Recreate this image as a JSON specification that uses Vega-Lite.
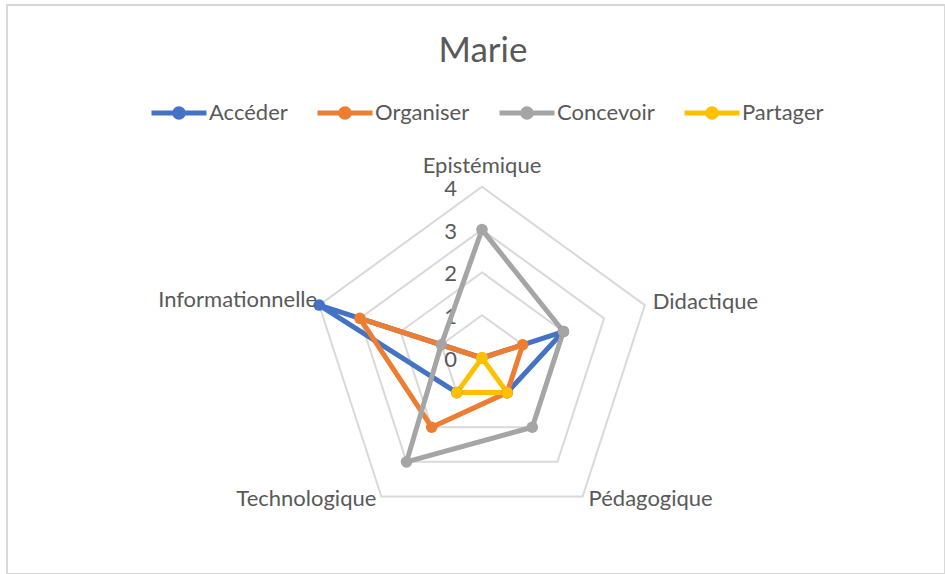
{
  "$schema": "https://vega.github.io/schema/vega-lite/v6.json",
  "width": 938,
  "height": 569,
  "autosize": "none",
  "padding": {"left": 7, "top": 5, "right": 0, "bottom": 0},
  "background": "white",
  "config": {
    "view": {"stroke": "#d9d9d9", "strokeWidth": 2},
    "font": "Lato"
  },
  "title": {
    "text": "Marie",
    "fontSize": 35,
    "font": "Lato",
    "fontWeight": "normal",
    "color": "#595959",
    "anchor": "middle",
    "frame": "group",
    "offset": -64,
    "dx": 7
  },
  "datasets": {
    "scores": [
      {"serie": "Accéder", "axe": "Epistémique", "valeur": 0},
      {"serie": "Accéder", "axe": "Didactique", "valeur": 2},
      {"serie": "Accéder", "axe": "Pédagogique", "valeur": 1},
      {"serie": "Accéder", "axe": "Technologique", "valeur": 1},
      {"serie": "Accéder", "axe": "Informationnelle", "valeur": 4},
      {"serie": "Organiser", "axe": "Epistémique", "valeur": 0},
      {"serie": "Organiser", "axe": "Didactique", "valeur": 1},
      {"serie": "Organiser", "axe": "Pédagogique", "valeur": 1},
      {"serie": "Organiser", "axe": "Technologique", "valeur": 2},
      {"serie": "Organiser", "axe": "Informationnelle", "valeur": 3},
      {"serie": "Concevoir", "axe": "Epistémique", "valeur": 3},
      {"serie": "Concevoir", "axe": "Didactique", "valeur": 2},
      {"serie": "Concevoir", "axe": "Pédagogique", "valeur": 2},
      {"serie": "Concevoir", "axe": "Technologique", "valeur": 3},
      {"serie": "Concevoir", "axe": "Informationnelle", "valeur": 1},
      {"serie": "Partager", "axe": "Epistémique", "valeur": 0},
      {"serie": "Partager", "axe": "Didactique", "valeur": 0},
      {"serie": "Partager", "axe": "Pédagogique", "valeur": 1},
      {"serie": "Partager", "axe": "Technologique", "valeur": 1},
      {"serie": "Partager", "axe": "Informationnelle", "valeur": 0}
    ],
    "grille": [
      {"niveau": 1, "axe": "Epistémique"}, {"niveau": 1, "axe": "Didactique"}, {"niveau": 1, "axe": "Pédagogique"}, {"niveau": 1, "axe": "Technologique"}, {"niveau": 1, "axe": "Informationnelle"},
      {"niveau": 2, "axe": "Epistémique"}, {"niveau": 2, "axe": "Didactique"}, {"niveau": 2, "axe": "Pédagogique"}, {"niveau": 2, "axe": "Technologique"}, {"niveau": 2, "axe": "Informationnelle"},
      {"niveau": 3, "axe": "Epistémique"}, {"niveau": 3, "axe": "Didactique"}, {"niveau": 3, "axe": "Pédagogique"}, {"niveau": 3, "axe": "Technologique"}, {"niveau": 3, "axe": "Informationnelle"},
      {"niveau": 4, "axe": "Epistémique"}, {"niveau": 4, "axe": "Didactique"}, {"niveau": 4, "axe": "Pédagogique"}, {"niveau": 4, "axe": "Technologique"}, {"niveau": 4, "axe": "Informationnelle"}
    ],
    "graduations": [
      {"niveau": 0}, {"niveau": 1}, {"niveau": 2}, {"niveau": 3}, {"niveau": 4}
    ],
    "axes": [
      {"axe": "Epistémique", "niveau": 4},
      {"axe": "Didactique", "niveau": 4},
      {"axe": "Pédagogique", "niveau": 4},
      {"axe": "Technologique", "niveau": 4},
      {"axe": "Informationnelle", "niveau": 4}
    ]
  },
  "layer": [
    {
      "data": {"name": "grille"},
      "transform": [
        {"calculate": "indexof(['Epistémique','Didactique','Pédagogique','Technologique','Informationnelle'], datum.axe)", "as": "idx"},
        {"calculate": "datum.niveau * sin(datum.idx * 2 * PI / 5)", "as": "px"},
        {"calculate": "datum.niveau * cos(datum.idx * 2 * PI / 5)", "as": "py"}
      ],
      "mark": {"type": "line", "interpolate": "linear-closed", "stroke": "#d9d9d9", "strokeWidth": 2},
      "encoding": {
        "x": {"field": "px", "type": "quantitative", "scale": {"domain": [-11.098, 10.818], "nice": false, "zero": false}, "axis": null},
        "y": {"field": "py", "type": "quantitative", "scale": {"domain": [-5.047, 8.248], "nice": false, "zero": false}, "axis": null},
        "detail": {"field": "niveau", "type": "nominal"},
        "order": {"field": "idx", "type": "quantitative"}
      }
    },
    {
      "data": {"name": "graduations"},
      "transform": [
        {"calculate": "0", "as": "px"},
        {"calculate": "datum.niveau", "as": "py"}
      ],
      "mark": {"type": "text", "align": "right", "baseline": "middle", "dx": -25, "dy": 2, "fontSize": 22, "font": "Lato", "color": "#595959"},
      "encoding": {
        "x": {"field": "px", "type": "quantitative"},
        "y": {"field": "py", "type": "quantitative"},
        "text": {"field": "niveau", "type": "quantitative"}
      }
    },
    {
      "data": {"name": "scores"},
      "transform": [
        {"calculate": "indexof(['Epistémique','Didactique','Pédagogique','Technologique','Informationnelle'], datum.axe)", "as": "idx"},
        {"calculate": "datum.valeur * sin(datum.idx * 2 * PI / 5)", "as": "px"},
        {"calculate": "datum.valeur * cos(datum.idx * 2 * PI / 5)", "as": "py"}
      ],
      "layer": [
        {
          "mark": {"type": "line", "interpolate": "linear-closed", "strokeWidth": 5, "strokeJoin": "round", "strokeCap": "round"},
          "encoding": {
            "x": {"field": "px", "type": "quantitative"},
            "y": {"field": "py", "type": "quantitative"},
            "order": {"field": "idx", "type": "quantitative"},
            "color": {
              "field": "serie",
              "type": "nominal",
              "sort": ["Accéder", "Organiser", "Concevoir", "Partager"],
              "scale": {"domain": ["Accéder", "Organiser", "Concevoir", "Partager"], "range": ["#4472C4", "#ED7D31", "#A5A5A5", "#FFC000"]},
              "legend": {
                "title": null,
                "orient": "none",
                "direction": "horizontal",
                "legendX": 142,
                "legendY": 78,
                "padding": 0,
                "gridAlign": "none",
                "columnPadding": 19,
                "labelOffset": 0,
                "labelFontSize": 22,
                "labelFont": "Lato",
                "labelColor": "#595959",
                "symbolType": "M-1,0L1,0M0.064,0A0.064,0.064 0 1,1 -0.064,0A0.064,0.064 0 1,1 0.064,0M0.155,0A0.155,0.155 0 1,1 -0.155,0A0.155,0.155 0 1,1 0.155,0",
                "symbolSize": 3025,
                "symbolStrokeWidth": 5
              }
            }
          }
        },
        {
          "mark": {"type": "point", "shape": "circle", "filled": true, "size": 133, "opacity": 1},
          "encoding": {
            "x": {"field": "px", "type": "quantitative"},
            "y": {"field": "py", "type": "quantitative"},
            "color": {"field": "serie", "type": "nominal"}
          }
        }
      ]
    },
    {
      "data": {"name": "axes"},
      "transform": [
        {"calculate": "indexof(['Epistémique','Didactique','Pédagogique','Technologique','Informationnelle'], datum.axe)", "as": "idx"},
        {"calculate": "datum.niveau * sin(datum.idx * 2 * PI / 5)", "as": "px"},
        {"calculate": "datum.niveau * cos(datum.idx * 2 * PI / 5)", "as": "py"}
      ],
      "layer": [
        {
          "transform": [{"filter": "datum.axe == 'Epistémique'"}],
          "mark": {"type": "text", "align": "center", "baseline": "middle", "dy": -21, "fontSize": 22, "font": "Lato", "color": "#595959"},
          "encoding": {"x": {"field": "px", "type": "quantitative"}, "y": {"field": "py", "type": "quantitative"}, "text": {"field": "axe"}}
        },
        {
          "transform": [{"filter": "datum.axe == 'Didactique'"}],
          "mark": {"type": "text", "align": "left", "baseline": "middle", "dx": 8, "dy": -3, "fontSize": 22, "font": "Lato", "color": "#595959"},
          "encoding": {"x": {"field": "px", "type": "quantitative"}, "y": {"field": "py", "type": "quantitative"}, "text": {"field": "axe"}}
        },
        {
          "transform": [{"filter": "datum.axe == 'Informationnelle'"}],
          "mark": {"type": "text", "align": "right", "baseline": "middle", "dx": -2, "dy": -5, "fontSize": 22, "font": "Lato", "color": "#595959"},
          "encoding": {"x": {"field": "px", "type": "quantitative"}, "y": {"field": "py", "type": "quantitative"}, "text": {"field": "axe"}}
        },
        {
          "transform": [{"filter": "datum.axe == 'Pédagogique'"}],
          "mark": {"type": "text", "align": "left", "baseline": "middle", "dx": 6, "dy": 3, "fontSize": 22, "font": "Lato", "color": "#595959"},
          "encoding": {"x": {"field": "px", "type": "quantitative"}, "y": {"field": "py", "type": "quantitative"}, "text": {"field": "axe"}}
        },
        {
          "transform": [{"filter": "datum.axe == 'Technologique'"}],
          "mark": {"type": "text", "align": "right", "baseline": "middle", "dx": -5, "dy": 3, "fontSize": 22, "font": "Lato", "color": "#595959"},
          "encoding": {"x": {"field": "px", "type": "quantitative"}, "y": {"field": "py", "type": "quantitative"}, "text": {"field": "axe"}}
        }
      ]
    }
  ]
}
